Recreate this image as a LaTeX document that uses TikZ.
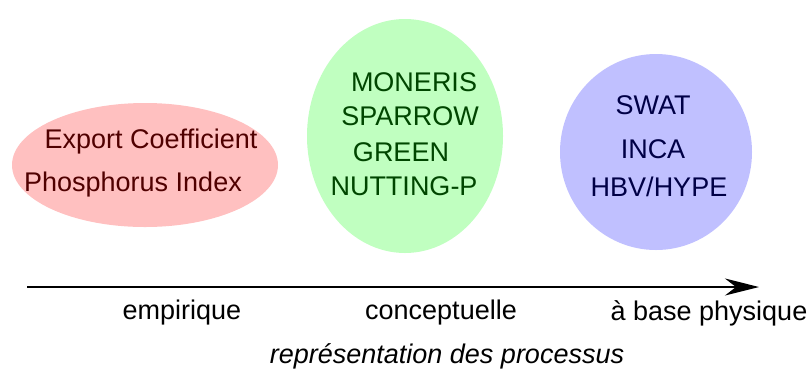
\documentclass[tikz,border=0pt]{standalone}
\usepackage{fontspec}
\setmainfont{Liberation Sans}
\usetikzlibrary{arrows.meta}

\definecolor{redfill}{RGB}{255,192,192}
\definecolor{greenfill}{RGB}{192,255,192}
\definecolor{bluefill}{RGB}{192,192,255}
\definecolor{redtext}{RGB}{80,0,0}
\definecolor{greentext}{RGB}{0,70,0}
\definecolor{bluetext}{RGB}{0,0,70}

\begin{document}
\begin{tikzpicture}[x=1pt, y=-1pt,
    lbl/.style={font=\fontsize{27}{32}\selectfont, inner sep=0pt},
    axis/.style={line width=2pt, -{Stealth[length=34pt, width=17pt, inset=11pt]}}]
            \useasboundingbox (0,0) rectangle (811,376);

            % groups of models
            \fill[redfill] (145,165) ellipse [x radius=133, y radius=62];
            \fill[greenfill] (405,136) ellipse [x radius=98, y radius=117];
            \fill[bluefill] (656,152) ellipse [x radius=96, y radius=98];

            \node[lbl, text=redtext] (export) at (151,142) {Export Coefficient};
            \node[lbl, text=redtext] (phos) at (133,185) {Phosphorus Index};

            \node[lbl, text=greentext] (moneris) at (414,82) {MONERIS};
            \node[lbl, text=greentext] (sparrow) at (410,116) {SPARROW};
            \node[lbl, text=greentext] (green) at (401,152) {GREEN};
            \node[lbl, text=greentext] (nutting) at (404,186) {NUTTING-P};

            \node[lbl, text=bluetext] (swat) at (653,105) {SWAT};
            \node[lbl, text=bluetext] (inca) at (653,149) {INCA};
            \node[lbl, text=bluetext] (hbv) at (659,187) {HBV/HYPE};

            % axis
            \coordinate (axstart) at (27,287);
            \coordinate (axend) at (759,287);
            \draw[axis] (axstart) -- (axend);

            \node[lbl] (empir) at (182,313) {empirique};
            \node[lbl] (concept) at (441,313) {conceptuelle};
            \node[lbl] (phys) at (709,313) {à base physique};
            \node[lbl, font=\fontsize{27}{32}\selectfont\itshape] (repr) at (447,356) {représentation des processus};
        \end{tikzpicture}
\end{document}
